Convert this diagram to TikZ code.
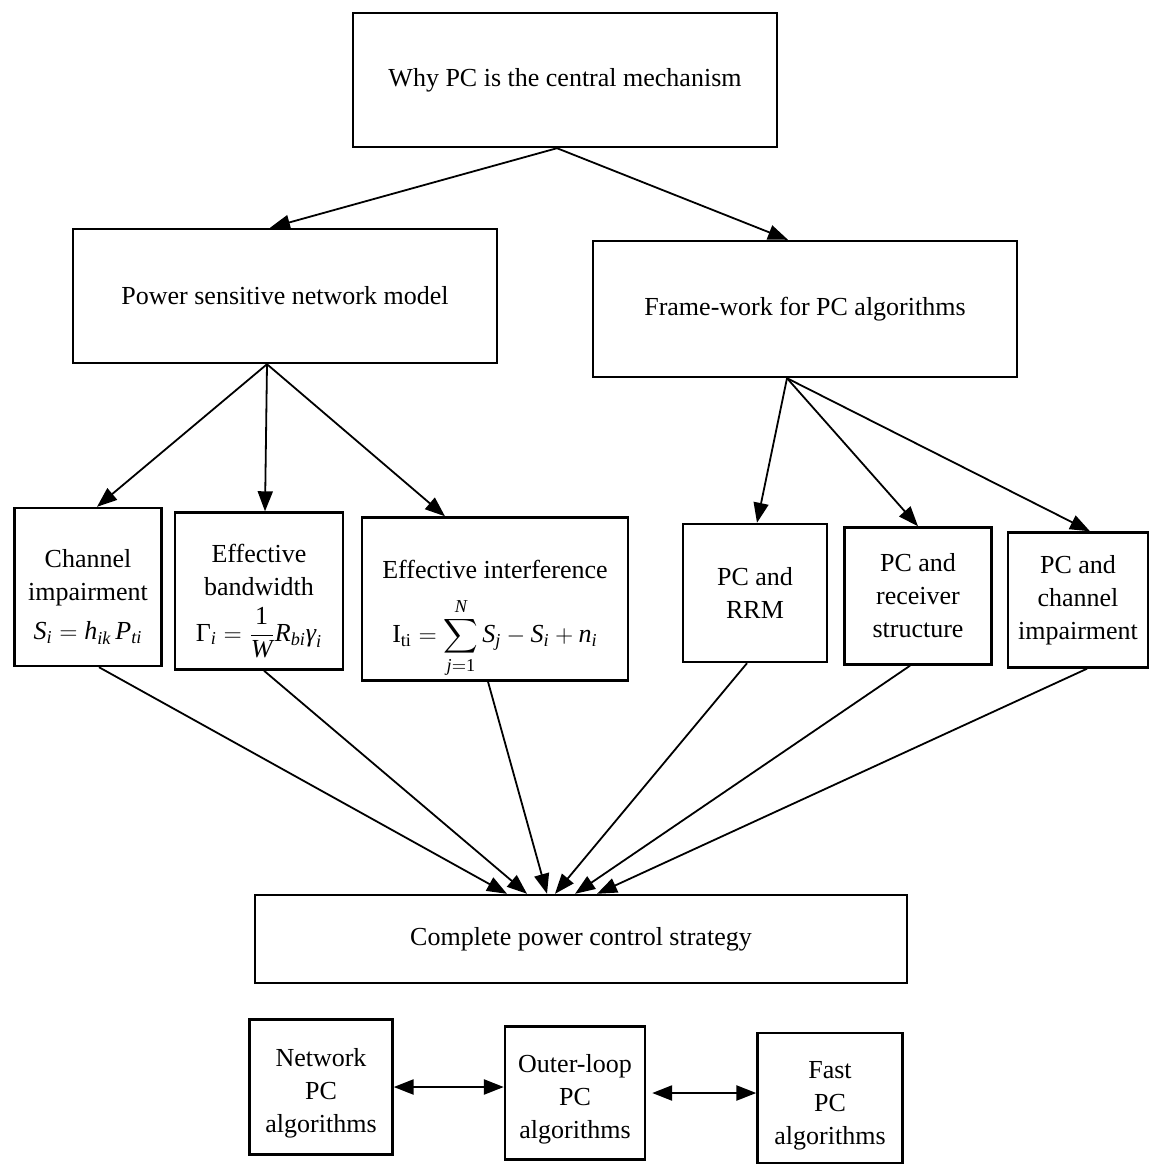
\documentclass[tikz,border=0pt]{standalone}
\usepackage{amsmath}
\usepackage{fontspec}
\setmainfont{Liberation Serif}
\usetikzlibrary{arrows.meta}
\newcommand{\vi}[1]{\textit{#1}}
\tikzset{
  box/.style={draw, line width=1.2pt, inner sep=0pt, align=center,
    font=\fontsize{13}{16.5}\selectfont},
  txt/.style={inner sep=0pt, align=center, font=\fontsize{13}{16.5}\selectfont},
  wh/.style 2 args={minimum width=#1*0.5pt, minimum height=#2*0.5pt},
  arr/.style={line width=0.9pt, -{Triangle[length=10pt,width=7.5pt]}},
  darr/.style={line width=1.2pt, {Triangle[length=10pt,width=7.5pt]}-{Triangle[length=10pt,width=7.5pt]}}
}
\begin{document}
\begin{tikzpicture}[x=0.5pt,y=-0.5pt]
\useasboundingbox (0,0) rectangle (1151,1166);

\node[box, wh={424}{134}] (top) at (565,80) {Why PC is the central mechanism};
\node[box, wh={424}{134}] (psnm) at (285,296) {Power sensitive network model};
\node[box, wh={424}{136}] (frame) at (805,309) {Frame-work for PC algorithms};

\node[box, wh={147}{158}] (chan) at (88,587) {};
\node[txt] (chant) at ([yshift=-5pt]chan.center) {Channel\\impairment\\[3pt]$\vi{S}_{\vi{i}} = \vi{h}_{\vi{ik}}\,\vi{P}_{\vi{ti}}$};
\node[box, wh={168}{157}] (band) at (259,591) {};
\node[txt] (bandt) at ([yshift=-5pt]band.center) {Effective\\bandwidth\\[5pt]$\text{Γ}_{\vi{i}} =\dfrac{\text{1}}{\vi{W}}\vi{R}_{\vi{bi}}\vi{γ}_{\vi{i}}$};
\node[box, wh={266}{163}] (intf) at (495,599) {};
\node[txt] (intft) at ([yshift=-10pt]intf.center) {Effective interference\\[9pt]$\text{I}_{\text{ti}} = \displaystyle\sum_{\vi{j}=\text{1}}^{\vi{N}} \vi{S}_{\vi{j}} - \vi{S}_{\vi{i}} + \vi{n}_{\vi{i}}$};
\node[box, wh={144}{138}] (rrm) at (755,593) {PC and\\RRM};
\node[box, wh={147}{137}] (recv) at (918,596) {PC and\\receiver\\structure};
\node[box, wh={140}{135}] (chimp) at (1078,600) {PC and\\channel\\impairment};

\node[box, wh={652}{88}] (comp) at (581,939) {Complete power control strategy};

\node[box, wh={143}{135}] (net) at (321,1087) {};
\node[txt] (nett) at ([yshift=-3pt]net.center) {Network\\PC\\algorithms};
\node[box, wh={140}{133}] (outer) at (575,1093) {};
\node[txt] (outert) at ([yshift=-3pt]outer.center) {Outer-loop\\PC\\algorithms};
\node[box, wh={145}{130}] (fast) at (830,1098) {};
\node[txt] (fastt) at ([yshift=-4pt]fast.center) {Fast\\PC\\algorithms};

% top level
\draw[arr] ([xshift=-4pt]top.south) -- ([xshift=-7.5pt]psnm.north);
\draw[arr] ([xshift=-4pt]top.south) -- ([xshift=-8.5pt]frame.north);

% psnm children
\draw[arr] ([xshift=-9pt]psnm.south) -- ([xshift=4.5pt]chan.north);
\draw[arr] ([xshift=-9pt]psnm.south) -- ([xshift=3pt]band.north);
\draw[arr] ([xshift=-9pt]psnm.south) -- ([xshift=-25pt]intf.north);

% frame children
\draw[arr] ([xshift=-9pt]frame.south) -- ([xshift=1pt]rrm.north);
\draw[arr] ([xshift=-9pt]frame.south) -- (recv.north);
\draw[arr] ([xshift=-9pt]frame.south) -- ([xshift=6pt]chimp.north);

% to complete
\draw[arr] ([xshift=5.5pt]chan.south) -- ([xshift=-37pt]comp.north);
\draw[arr] ([xshift=2.5pt]band.south) -- ([xshift=-27pt]comp.north);
\draw[arr] ([xshift=-3.5pt]intf.south) -- ([xshift=-17pt]comp.north);
\draw[arr] ([xshift=-4pt]rrm.south) -- ([xshift=-13pt]comp.north);
\draw[arr] ([xshift=-4pt]recv.south) -- ([xshift=-3pt]comp.north);
\draw[arr] ([xshift=4.5pt]chimp.south) -- ([xshift=8pt]comp.north);

% bottom row
\draw[darr] (net.east) -- (net.east -| outer.west);
\draw[darr] ([xshift=3pt]outer.east) -- (outer.east -| fast.west);
\end{tikzpicture}
\end{document}
